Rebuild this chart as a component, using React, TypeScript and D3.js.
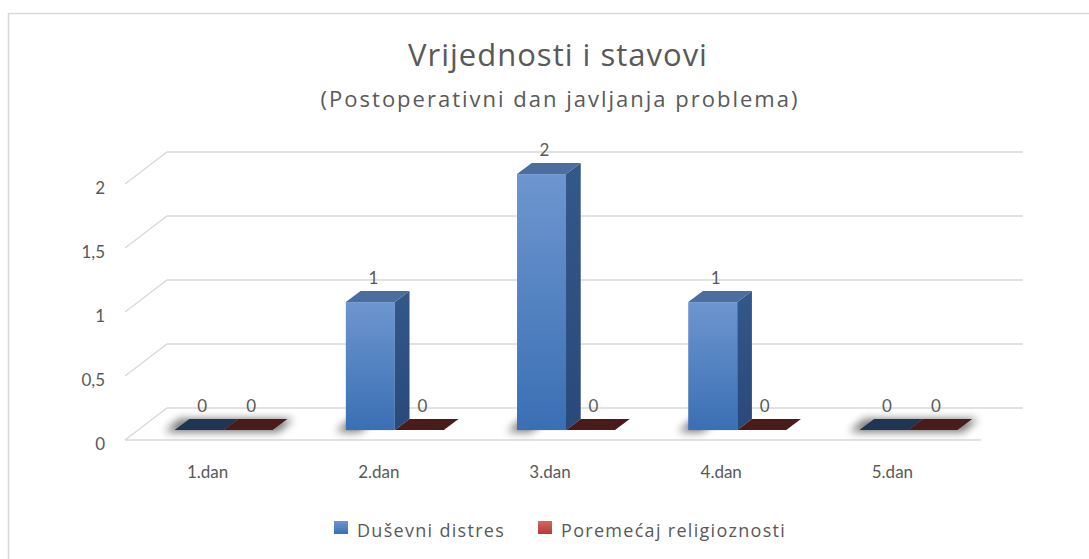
import React from "react";
import * as d3 from "d3";

const categories = ["1.dan", "2.dan", "3.dan", "4.dan", "5.dan"];
const seriesNames = ["Duševni distres", "Poremećaj religioznosti"];
const dusevniDistres = [0, 1, 2, 1, 0];
const poremecajReligioznosti = [0, 0, 0, 0, 0];
const yTicks = [0, 0.5, 1, 1.5, 2];
const tickLabels = ["0", "0,5", "1", "1,5", "2"];

const W = 1089;
const H = 559;
const FONT = "Lato, 'Open Sans', sans-serif";
const FONT2 = "'Open Sans', Lato, sans-serif";
const TXT = "#595959";

// depth of the 3d box (screen offset of the back wall)
const DX = 42;
const DY = -32;
// bars sit between these depth fractions
const Z0 = 0.31;
const Z1 = 0.66;

const palette = [
  { top: "#4b6e9f", side: "#34588a", sideDark: "#29497a", light: "#6d96cf", dark: "#3a6fb4", flat: "#1f3553" },
  { top: "#a84642", side: "#8e3431", sideDark: "#7a2926", light: "#d2685f", dark: "#b53a37", flat: "#4a1b1b" },
];

const App = () => {
  const x = d3.scaleBand<string>().domain(categories).range([125, 981]);
  const xs = d3.scaleBand<number>().domain([0, 1]).range([0, x.bandwidth()]).paddingOuter(0.747);
  const y = d3.scaleLinear().domain([0, 2]).range([440, 184]);

  const values = [dusevniDistres, poremecajReligioznosti];

  const bars: any[] = [];
  categories.forEach((c, i) => {
    values.forEach((vals, s) => {
      const v = vals[i];
      const fx0 = (x(c) as number) + (xs(s) as number) + Z0 * DX;
      const fx1 = fx0 + xs.bandwidth();
      const dz = Z1 - Z0;
      const ox = dz * DX;
      const oy = dz * DY;
      const yb = y(0) + Z0 * DY;
      const yt = y(v) + Z0 * DY;
      bars.push({ c, i, s, v, fx0, fx1, ox, oy, yb, yt });
    });
  });

  const pts = (arr: number[][]) => arr.map((p) => p.join(",")).join(" ");

  return (
    <svg width={W} height={H} style={{ position: "absolute", left: 0, top: 0, background: "#fff" }}>
      <defs>
        {palette.map((p, s) => (
          <g key={s}>
            <linearGradient id={`front${s}`} x1="0" y1="0" x2="0" y2="1">
              <stop offset="0" stopColor={p.light} />
              <stop offset="1" stopColor={p.dark} />
            </linearGradient>
            <linearGradient id={`side${s}`} x1="0" y1="0" x2="0" y2="1">
              <stop offset="0" stopColor={p.side} />
              <stop offset="1" stopColor={p.sideDark} />
            </linearGradient>
          </g>
        ))}
        <filter id="shadow" x="-30%" y="-200%" width="160%" height="500%">
          <feGaussianBlur stdDeviation="4" />
        </filter>
      </defs>

      {/* chart area border */}
      <rect x={8.5} y={13.5} width={1100} height={600} fill="#fff" stroke="#d9d9d9" strokeWidth={1.5} />

      {/* title */}
      <text x={558} y={66} textAnchor="middle" fontFamily={FONT2} fontSize={31} letterSpacing={1} fill={TXT}>
        Vrijednosti i stavovi
      </text>
      <text x={560} y={107} textAnchor="middle" fontFamily={FONT2} fontSize={22} letterSpacing={2} fill={TXT}>
        (Postoperativni dan javljanja problema)
      </text>

      {/* gridlines: left wall diagonal + back wall */}
      <g stroke="#d9d9d9" strokeWidth={1.5} fill="none">
        {yTicks.map((t) => (
          <polyline
            key={t}
            points={pts([
              [125, y(t)],
              [125 + DX, y(t) + DY],
              [981 + DX, y(t) + DY],
            ])}
          />
        ))}
        <line x1={125} x2={981} y1={y(0)} y2={y(0)} />
      </g>

      {/* y tick labels */}
      {yTicks.map((t, k) => (
        <text key={t} x={105} y={y(t) + 10} textAnchor="end" fontFamily={FONT} fontSize={17} fill={TXT}>
          {tickLabels[k]}
        </text>
      ))}

      {/* floor shadows */}
      {categories.map((c, i) => {
        const b0 = bars[i * 2];
        const b1 = bars[i * 2 + 1];
        const zero = b0.v === 0 && b1.v === 0;
        const x0 = b0.fx0 - 10;
        const x1 = zero ? b1.fx1 + 6 : b0.fx0 + 14;
        return (
          <polygon
            key={c}
            points={pts([
              [x0, b0.yb + 2],
              [x1, b0.yb + 2],
              [x1 + b0.ox, b0.yb + b0.oy],
              [x0 + b0.ox, b0.yb + b0.oy],
            ])}
            fill="#000"
            opacity={0.55}
            filter="url(#shadow)"
          />
        );
      })}

      {/* bars */}
      {bars.map((b, k) => (
        <g key={k}>
          {b.v > 0 && (
            <>
              <rect x={b.fx0} y={b.yt} width={b.fx1 - b.fx0} height={b.yb - b.yt} fill={`url(#front${b.s})`} />
              <polygon
                points={pts([
                  [b.fx1, b.yt],
                  [b.fx1 + b.ox, b.yt + b.oy],
                  [b.fx1 + b.ox, b.yb + b.oy],
                  [b.fx1, b.yb],
                ])}
                fill={`url(#side${b.s})`}
              />
            </>
          )}
          <polygon
            points={pts([
              [b.fx0, b.yt],
              [b.fx1, b.yt],
              [b.fx1 + b.ox, b.yt + b.oy],
              [b.fx0 + b.ox, b.yt + b.oy],
            ])}
            fill={b.v > 0 ? palette[b.s].top : palette[b.s].flat}
          />
        </g>
      ))}

      {/* data labels */}
      {bars.map((b, k) => (
        <text
          key={k}
          x={(b.fx0 + b.fx1) / 2 + 3}
          y={b.yt + b.oy - 7}
          textAnchor="middle"
          fontFamily={FONT}
          fontSize={17}
          fill={TXT}
        >
          {b.v}
        </text>
      ))}

      {/* category labels */}
      {categories.map((c) => (
        <text
          key={c}
          x={(x(c) as number) + x.bandwidth() / 2 - 3}
          y={478}
          textAnchor="middle"
          fontFamily={FONT}
          fontSize={17}
          fill={TXT}
        >
          {c}
        </text>
      ))}

      {/* legend */}
      {seriesNames.map((n, s) => {
        const lx = s === 0 ? 334 : 538;
        return (
          <g key={n}>
            <rect x={lx} y={521} width={14} height={13} fill={`url(#front${s})`} />
            <text x={lx + 23} y={537} fontFamily={FONT2} fontSize={18} letterSpacing={1.3} fill={TXT}>
              {n}
            </text>
          </g>
        );
      })}
    </svg>
  );
};

export default App;
